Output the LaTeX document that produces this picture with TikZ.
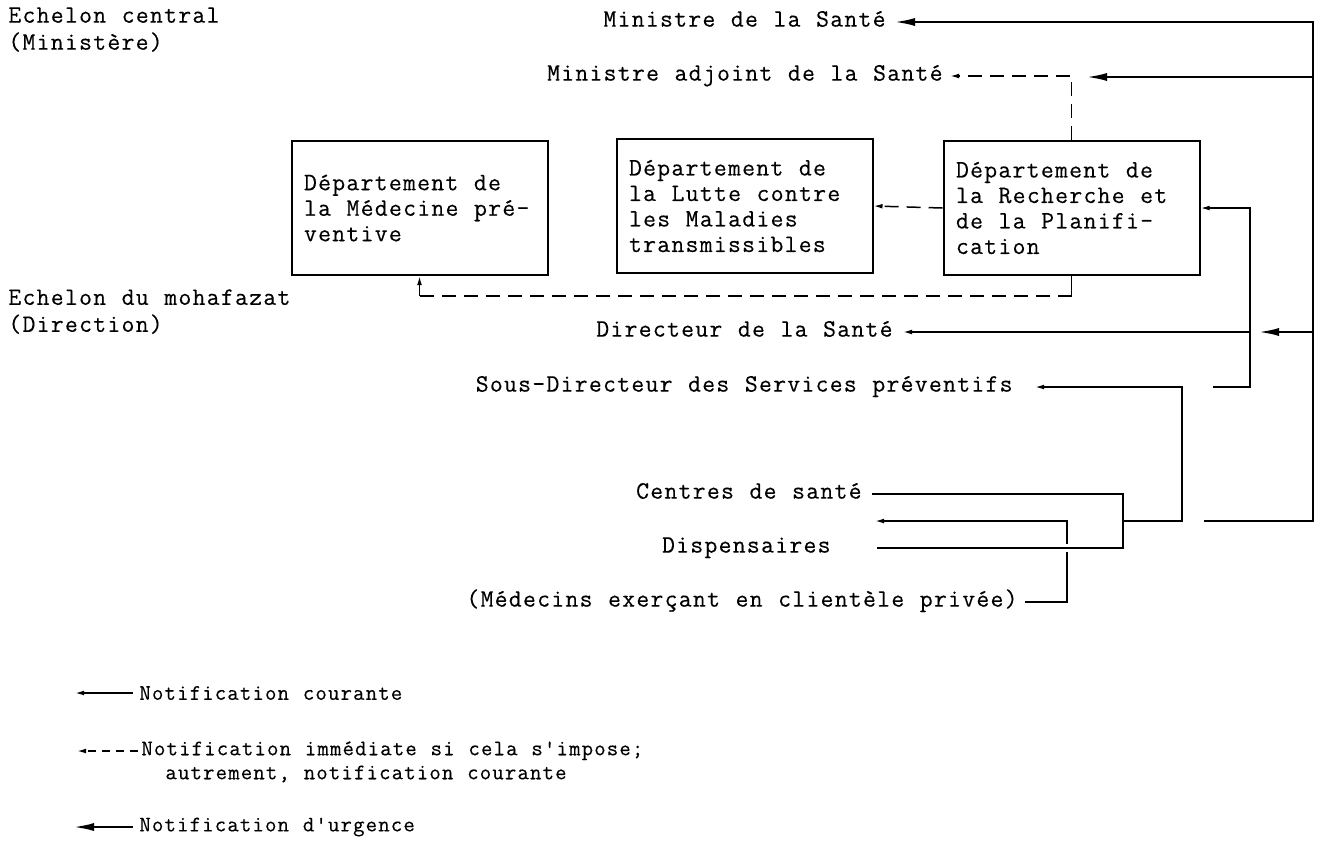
\documentclass[tikz,border=0pt]{standalone}
\usepackage{fontspec}
\newfontfamily\typew[LetterSpace=5.1, WordSpace={1.1,0,0}, FakeBold=0.3]{Latin Modern Mono}
\usetikzlibrary{arrows.meta, positioning}

\tikzset{
  lbl/.style={font=\typew\fontsize{12.5pt}{13.5pt}\selectfont, inner xsep=3.5pt, inner ysep=0pt,
    text height=4.6pt, text depth=0pt},
  level/.style={font=\typew\fontsize{12.5pt}{13.5pt}\selectfont, inner sep=0pt, align=left, anchor=north west},
  legtext/.style={font=\typew\fontsize{11.1pt}{12pt}\selectfont, inner xsep=3pt, inner ysep=0pt, align=left},
  dept/.style={draw, line width=1pt, font=\typew\fontsize{12.5pt}{12.75pt}\selectfont,
    text width=115.5pt, inner xsep=6.25pt, minimum height=67pt, align=left,
    execute at begin node={\spaceskip=0pt\xspaceskip=0pt\relax}},
  plain/.style={line width=0.75pt},
  courante/.style={plain, -{Latex[length=4.5pt,width=2.4pt]}},
  immediate/.style={courante, dash pattern=on 7pt off 4pt},
  urgence/.style={line width=1.4pt, -{Latex[length=11pt,width=4pt]}},
}

\begin{document}
\begin{tikzpicture}[x=0.5pt, y=-0.5pt]
    \useasboundingbox (0,0) rectangle (1317,843);

    % Levels
    \node[level] (central) at (8,7) {Echelon central\\(Ministère)};
    \node[level] (mohafazat) at (8,289) {Echelon du mohafazat\\(Direction)};

    % Ministry
    \node[lbl, anchor=east] (minsante) at (893,22) {Ministre de la Santé};
    \node[lbl, anchor=east] (adjoint) at (950,76) {Ministre adjoint de la Santé};

    % Departments
    \node[dept] (preventive) at (419.5,208) {Département de\\la Médecine pré-\\ventive};
    \node[dept] (control) at (744.5,206) {Département de\\la Lutte contre\\les Maladies\\transmissibles};
    \node[dept] (research) at (1071.5,208) {Département de\\la Recherche et\\de la Planifi-\\cation};

    % Direction
    \node[lbl, anchor=east, inner xsep=5pt] (directeur) at (903,332) {Directeur de la Santé};
    \node[lbl, anchor=east, inner xsep=11pt] (sousdir) at (1035,387) {Sous-Directeur des Services préventifs};

    % Field level
    \node[lbl, anchor=east, inner xsep=5pt] (centres) at (872,494) {Centres de santé};
    \node[lbl, anchor=east, inner xsep=23pt] (dispens) at (877,548) {Dispensaires};
    \node[lbl, anchor=east] (medecins) at (1025,602) {(Médecins exerçant en clientèle privée)};

    % Free ends
    \coordinate (medtip) at (875,521);
    \coordinate (jc) at (1123,521);
    \coordinate (sdout) at (1213,387);
    \coordinate (urgsrc) at (1204,521);
    \coordinate (adjtip) at (1085,77);
    \coordinate (dirtip) at (1257,332);

    % Routine notification
    \draw[courante] (medecins.east) -- (1067,602) -- (1067,521) -- (medtip);
    \draw[plain, preaction={draw=white, line width=4pt}] (centres.east) -- (1123,494) -- (1123,548) -- (dispens.east);
    \draw[courante] (jc) -- (1182,521) -- (1182,387) -- (sousdir.east);
    \draw[courante] (sdout) -- (1250,387) |- (research.east);
    \draw[courante] (1250,332) -- (directeur.east);

    % Immediate notification
    \draw[immediate] (research.north) |- (adjoint.east);
    \draw[immediate] (research.west) -- (control.east);
    \draw[plain] (research.south) -- ++(0,20) coordinate (rs);
    \draw[immediate, -] (rs) -- (rs -| preventive.south) coordinate (ps);
    \draw[courante] (ps) -- (preventive.south);

    % Urgent notification
    \draw[urgence] (urgsrc) -- (1313,521) -- (1313,22) -- (minsante.east);
    \draw[urgence] (1313,77) -- (adjtip);
    \draw[urgence] (1313,332) -- (dirtip);

    % Legend
    \node[legtext, anchor=west] (legcour) at (133,693) {Notification courante};
    \node[legtext, anchor=north west] (legimm) at (135,741) {Notification immédiate si cela s'impose;\\\phantom{xx}autrement, notification courante};
    \node[legtext, anchor=west] (legurg) at (133,827) {Notification d'urgence};
    \coordinate (k1) at (75,693);
    \coordinate (k2) at (77,751);
    \coordinate (k2s) at (138,751);
    \coordinate (k3) at (72,827);
    \draw[courante] (legcour.west) -- (k1);
    \draw[immediate, dash pattern=on 4pt off 3pt] (k2s) -- (k2);
    \draw[urgence] (legurg.west) -- (k3);
\end{tikzpicture}
\end{document}
